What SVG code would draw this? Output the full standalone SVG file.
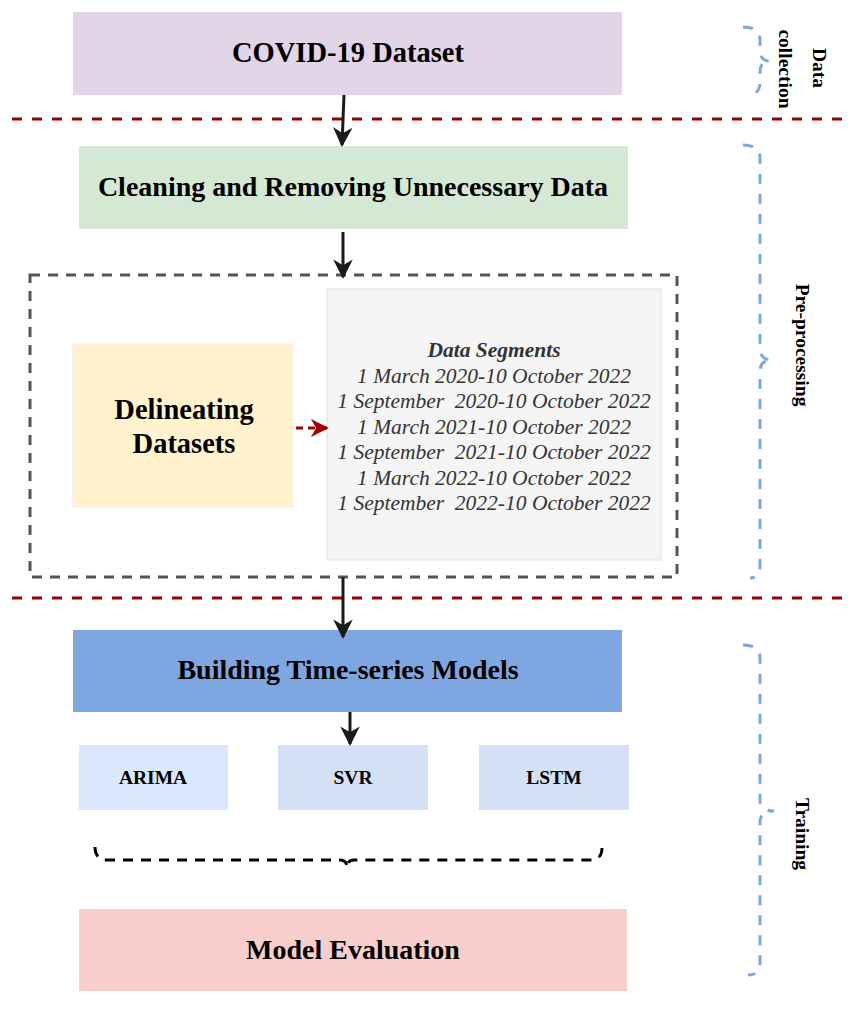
<svg xmlns="http://www.w3.org/2000/svg" width="848" height="1020" viewBox="0 0 848 1020">
<defs>
<style>
.t{font-family:"Liberation Serif","Times New Roman",serif;font-weight:bold;fill:#000;text-anchor:middle}
.seg{font-family:"Liberation Serif","Times New Roman",serif;font-style:italic;font-size:21.5px;fill:#333;text-anchor:middle}
.sep{stroke:#990000;stroke-width:3;stroke-dasharray:10 10;fill:none}
.brace{stroke:#7ea6e0;stroke-width:3;stroke-dasharray:10 10;fill:none}
.conn{stroke:#1a1a1a;stroke-width:3;fill:none}
</style>
<marker id="ah" viewBox="0 0 10 10" refX="9" refY="5" markerWidth="6.5" markerHeight="6.5" orient="auto" markerUnits="strokeWidth">
<path d="M0,0 L10,5 L0,10 L3,5 Z" fill="#1a1a1a"/>
</marker>
<marker id="ahr" viewBox="0 0 10 10" refX="9" refY="5" markerWidth="6" markerHeight="6" orient="auto" markerUnits="strokeWidth">
<path d="M0,0 L10,5 L0,10 L3,5 Z" fill="#a50000"/>
</marker>
</defs>
<rect width="848" height="1020" fill="#fff"/>

<g id="separators">
<line class="sep" x1="12" y1="119" x2="848" y2="119"/>
<line class="sep" x1="12" y1="598" x2="848" y2="598"/>
</g>

<g id="group-box">
<rect x="30" y="275" width="647" height="302" fill="none" stroke="#555" stroke-width="3" stroke-dasharray="10 8"/>
</g>

<g id="n-covid">
<rect x="73" y="12" width="549" height="83" fill="#e1d5e7"/>
<text class="t" x="348" y="62" font-size="28.5">COVID-19 Dataset</text>
</g>

<g id="n-clean">
<rect x="79" y="146" width="549" height="83" fill="#d5e8d4"/>
<text class="t" x="353" y="196" font-size="28">Cleaning and Removing Unnecessary Data</text>
</g>

<g id="n-delineate">
<rect x="73" y="344" width="220" height="163" fill="#fff2cc" stroke="#eee" stroke-width="1"/>
<text class="t" x="184" y="419" font-size="28.5">Delineating</text>
<text class="t" x="184" y="453" font-size="28.5">Datasets</text>
</g>

<g id="n-segments">
<rect x="327" y="289" width="334" height="271" fill="#f5f5f5" stroke="#e0e0e0" stroke-width="1"/>
<text class="seg" x="494" y="357" font-weight="bold">Data Segments</text>
<text class="seg" x="494" y="383">1 March 2020-10 October 2022</text>
<text class="seg" x="494" y="408" xml:space="preserve">1 September  2020-10 October 2022</text>
<text class="seg" x="494" y="434">1 March 2021-10 October 2022</text>
<text class="seg" x="494" y="459" xml:space="preserve">1 September  2021-10 October 2022</text>
<text class="seg" x="494" y="485">1 March 2022-10 October 2022</text>
<text class="seg" x="494" y="510" xml:space="preserve">1 September  2022-10 October 2022</text>
</g>

<g id="n-build">
<rect x="73" y="630" width="549" height="82" fill="#7ea6e0"/>
<text class="t" x="348" y="679" font-size="28">Building Time-series Models</text>
</g>

<g id="n-arima">
<rect x="79" y="745" width="149" height="65" fill="#dae8fc"/>
<text class="t" x="153" y="784" font-size="19.5">ARIMA</text>
</g>
<g id="n-svr">
<rect x="278" y="745" width="150" height="65" fill="#d4e1f5"/>
<text class="t" x="353" y="784" font-size="19.5">SVR</text>
</g>
<g id="n-lstm">
<rect x="479" y="745" width="150" height="65" fill="#d4e1f5"/>
<text class="t" x="554" y="784" font-size="19.5">LSTM</text>
</g>

<g id="n-eval">
<rect x="79" y="909" width="548" height="82" fill="#f8cecc"/>
<text class="t" x="353" y="959" font-size="28">Model Evaluation</text>
</g>

<g id="connectors">
<line class="conn" x1="344" y1="95" x2="342" y2="145" marker-end="url(#ah)"/>
<line class="conn" x1="343" y1="232" x2="343" y2="277" marker-end="url(#ah)"/>
<line class="conn" x1="343" y1="577" x2="343" y2="637" marker-end="url(#ah)"/>
<line class="conn" x1="350" y1="712" x2="350" y2="744" marker-end="url(#ah)"/>
<line x1="296" y1="428" x2="327" y2="428" stroke="#a50000" stroke-width="3" stroke-dasharray="7 5" marker-end="url(#ahr)"/>
<path d="M95,847 Q95,860 108,860 L340,860 Q347,860 347,868 Q347,860 354,860 L590,860 Q602,860 602,848" fill="none" stroke="#000" stroke-width="3" stroke-dasharray="10 8"/>
</g>

<g id="braces">
<path class="brace" d="M743,27 Q760,27 760,40 L760,50 Q760,61 770,61 Q760,61 760,72 L760,82 Q760,94 750,94"/>
<path class="brace" d="M743,145 Q760,145 760,158 L760,348 Q760,360 772,360 Q760,360 760,372 L760,566 Q760,578 750,578"/>
<path class="brace" d="M743,645 Q760,645 760,658 L760,800 Q760,811 774,811 Q760,811 760,822 L760,964 Q760,975 748,975"/>
</g>

<g id="labels">
<text class="t" font-size="19.5" transform="translate(813,68) rotate(90)">Data</text>
<text class="t" font-size="19.5" transform="translate(779,69) rotate(90)">collection</text>
<text class="t" font-size="19.5" transform="translate(796,345) rotate(90)">Pre-processing</text>
<text class="t" font-size="19.5" transform="translate(796,834) rotate(90)">Training</text>
</g>
</svg>
